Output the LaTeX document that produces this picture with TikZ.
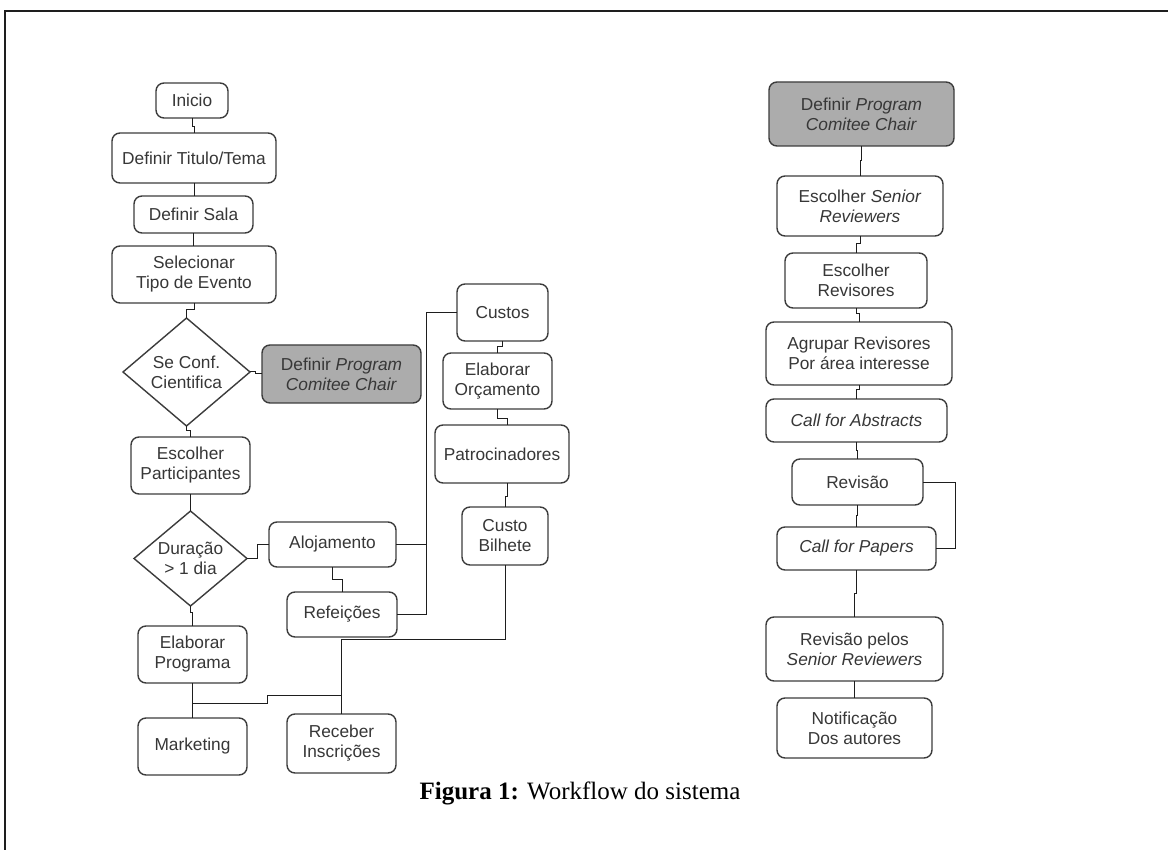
\documentclass[tikz,border=0pt]{standalone}
\usepackage{fontspec}
\setmainfont{Liberation Serif}
\newfontfamily\boxfont{Liberation Sans}
\usetikzlibrary{shapes.geometric}
\definecolor{edgec}{RGB}{60,60,60}
\definecolor{txtc}{RGB}{55,55,55}
\definecolor{shade}{RGB}{172,172,172}
\definecolor{wirec}{RGB}{30,30,30}
\definecolor{framec}{RGB}{30,30,30}

\begin{document}
\begin{tikzpicture}[x=1pt,y=-1pt,
  every node/.style={inner sep=0pt, outer sep=0pt},
  task/.style={draw=edgec, line width=1.4pt, rounded corners=8pt, fill=white,
    text=txtc, align=center, font=\boxfont\fontsize{17.3pt}{20pt}\selectfont},
  hilite/.style={task, fill=shade},
  choice/.style={diamond, shape aspect=1.2, draw=edgec, line width=1.4pt, fill=white,
    text=txtc, align=center, font=\boxfont\fontsize{17.3pt}{20pt}\selectfont},
  wire/.style={draw=wirec, line width=1pt},
  sz/.style 2 args={minimum width=#1pt, minimum height=#2pt}
]
\useasboundingbox (0,0) rectangle (1168,850);

% page frame
\draw[framec, line width=2pt] (5,850) -- (5,11) -- (1168,11);

% ---- main event workflow ----
\node[task, sz={72}{35}]   (inicio)   at (192,100.5) {Inicio};
\node[task, sz={164}{50}]  (titulo)   at (194,158)   {Definir Titulo/Tema};
\node[task, sz={119}{37}]  (sala)     at (193.5,214.5) {Definir Sala};
\node[task, sz={164}{57}]  (tipo)     at (194,274.5) {Selecionar\\Tipo de Evento};
\node[choice, sz={127}{108}] (conf)   at (186.5,372) {Se Conf.\\Cientifica};
\node[hilite, sz={159}{58}] (pccA)    at (341.5,374) {Definir \textit{Program}\\\textit{Comitee Chair}};
\node[task, sz={119}{57}]  (partic)   at (190.5,465.5) {Escolher\\Participantes};
\node[choice, sz={113}{95}] (dur)     at (190.5,558.5) {Duração\\> 1 dia};
\node[task, sz={127}{45}]  (aloj)     at (332.5,544.5) {Alojamento};
\node[task, sz={110}{45}]  (refei)    at (342,614.5) {Refeições};
\node[task, sz={109}{57}]  (elabprog) at (192.5,654.5) {Elaborar\\Programa};
\node[task, sz={109}{57}]  (mkt)      at (192.5,746.5) {Marketing};
\node[task, sz={109}{59}]  (receber)  at (341.5,743.5) {Receber\\Inscrições};
\node[task, sz={91}{57}]   (custos)   at (502.5,312.5) {Custos};
\node[task, sz={109}{56}]  (orcam)    at (497.5,381) {Elaborar\\Orçamento};
\node[task, sz={134}{58}]  (patroc)   at (502,454) {Patrocinadores};
\node[task, sz={86}{58}]   (bilhete)  at (505,536) {Custo\\Bilhete};

% ---- scientific programme workflow ----
\node[hilite, sz={185}{64}] (pccB)    at (861.5,114) {Definir \textit{Program}\\\textit{Comitee Chair}};
\node[task, sz={166}{60}]  (senior)   at (860,206) {Escolher \textit{Senior}\\\textit{Reviewers}};
\node[task, sz={142}{55}]  (revis)    at (856,280.5) {Escolher\\Revisores};
\node[task, sz={186}{63}]  (agrupar)  at (859,353.5) {Agrupar Revisores\\Por área interesse};
\node[task, sz={181}{43}]  (abstr)    at (856.5,420.5) {\textit{Call for Abstracts}};
\node[task, sz={131}{46}]  (revisao)  at (857.5,482) {Revisão};
\node[task, sz={159}{43}]  (papers)   at (856.5,548.5) {\textit{Call for Papers}};
\node[task, sz={177}{64}]  (revpelos) at (854.5,649) {Revisão pelos\\\textit{Senior Reviewers}};
\node[task, sz={155}{60}]  (notif)    at (854.5,728) {Notificação\\Dos autores};

% caption
\node[font=\fontsize{25pt}{28pt}\selectfont] (caption) at (580,793)
  {\textbf{Figura 1:} Workflow do sistema};

% junction points of the shared lines
\coordinate (bus)   at (341.5,639);
\coordinate (tap)   at (192.5,703);
\coordinate (trunk) at (426,0);

% ---- connectors, left workflow ----
\draw[wire] (inicio.south) -- ++(0,9) -| (titulo.north);
\draw[wire] (titulo.south) -- (titulo.south |- sala.north);
\draw[wire] (sala.south) -- (sala.south |- tipo.north);
\draw[wire] (tipo.south) -- ++(0,7) -| (conf.north);
\draw[wire] (conf.east) -- ++(5,0) |- (pccA.west);
\draw[wire] (conf.south) -- ++(0,4) -| (partic.north);
\draw[wire] (partic.south) -- (partic.south |- dur.north);
\draw[wire] (dur.east) -- ++(10,0) |- (aloj.west);
\draw[wire] (dur.south) -- ++(0,6) -| (elabprog.north);
\draw[wire] (aloj.south) -- ++(0,12) -| (refei.north);
\draw[wire] (elabprog.south) -- (mkt.north);
\draw[wire] (tap) -- ++(74.5,0) |- (bus |- 0,695);
\draw[wire] (bilhete.south) |- (bus) -- (receber.north);
\draw[wire] (custos.west) -| (trunk |- refei.east) -- (refei.east);
\draw[wire] (aloj.east) -- (aloj.east -| trunk);
\draw[wire] (custos.south) -- ++(0,6) -| (orcam.north);
\draw[wire] (orcam.south) -- ++(0,9) -| ([xshift=5pt]patroc.north);
\draw[wire] ([xshift=5pt]patroc.south) -- ++(0,13) -| (bilhete.north);

% ---- connectors, right workflow ----
\draw[wire] (pccB.south) -- ++(0,15) -| (senior.north);
\draw[wire] (senior.south) -- ++(0,8) -| (revis.north);
\draw[wire] (revis.south) -- ++(0,6) -| (agrupar.north);
\draw[wire] (agrupar.south) -- ++(0,5) -| (abstr.north);
\draw[wire] (abstr.south) -- ++(0,8) -| (revisao.north);
\draw[wire] (revisao.south) -- ++(0,10) -| (papers.north);
\draw[wire] (revisao.east) -- ++(32,0) |- (papers.east);
\draw[wire] (papers.south) -- ++(0,23) -| (revpelos.north);
\draw[wire] (revpelos.south) -- (notif.north);
\end{tikzpicture}
\end{document}
